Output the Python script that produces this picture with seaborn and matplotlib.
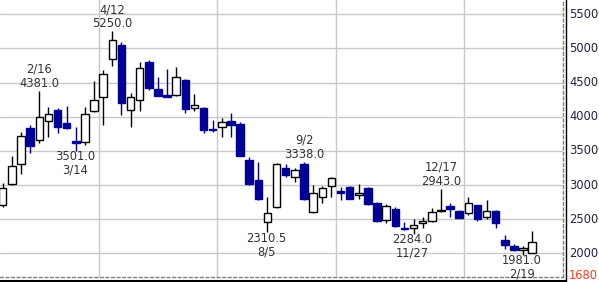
import matplotlib
matplotlib.use("Agg")
import matplotlib.pyplot as plt
import matplotlib.transforms as mtransforms
from matplotlib.lines import Line2D
import numpy as np
import pandas as pd
import seaborn as sns

# ---------------- data (weekly candles, Jan 2024 - Feb 2025) ----------------
week_start = "2024-01-15"
opens = [2707, 3010, 3303, 3835, 3654, 3933, 4099, 3908, 3640, 3625,
         4079, 4284, 4841, 5046, 4099, 4245, 4802, 4406, 4313, 4313,
         4538, 4123, 4128, 3825, 3845, 3942, 3894, 3366, 3073, 2453,
         2673, 3244, 3112, 3307, 2600, 2829, 2985, 2912, 2966, 2853,
         2956, 2731, 2487, 2648, 2370, 2370, 2438, 2477, 2622, 2692,
         2619, 2585, 2702, 2526, 2619, 2194, 2106, 2048, 2000]
highs = [3024, 3420, 3781, 3879, 4381, 4138, 4123, 4157, 3854, 4138,
         4519, 4685, 5250, 5100, 4343, 4807, 4831, 4577, 4694, 4733,
         4548, 4333, 4138, 3952, 3976, 4050, 3928, 3405, 3342, 2829,
         3317, 3303, 3244, 3338, 2995, 2990, 3122, 2975, 2990, 3015,
         2966, 2746, 2722, 2673, 2463, 2497, 2536, 2658, 2943, 2741,
         2634, 2819, 2712, 2780, 2634, 2268, 2131, 2106, 2331]
lows = [2673, 2995, 3156, 3464, 3620, 3698, 3757, 3820, 3501, 3581,
        4064, 3879, 4743, 4025, 3854, 4084, 4392, 4304, 4284, 4304,
        4050, 4089, 3767, 3781, 3698, 3708, 3425, 2995, 2780, 2310.5,
        2658, 3112, 3049, 2780, 2585, 2731, 2819, 2780, 2790, 2790,
        2712, 2463, 2448, 2390, 2341, 2284, 2375, 2453, 2600, 2536,
        2512, 2560, 2477, 2497, 2375, 2057, 2038, 1981, 2000]
closes = [2951, 3283, 3718, 3576, 3991, 4045, 3854, 3830, 3610, 4035,
          4245, 4621, 5119, 4206, 4294, 4709, 4421, 4309, 4294, 4577,
          4118, 4167, 3810, 3801, 3918, 3884, 3430, 3010, 2795, 2585,
          3303, 3146, 3225, 2800, 2878, 2951, 3098, 2878, 2800, 2888,
          2726, 2477, 2697, 2404, 2355, 2409, 2477, 2600, 2640, 2648,
          2521, 2736, 2497, 2624, 2438, 2116, 2048, 2077, 2160]

# annotated extremes: (candle index, kind, date label)
marks_idx = [4, 8, 12, 29, 33, 45, 48, 57]
marks_kind = ["high", "low", "high", "low", "high", "low", "high", "low"]
marks_date = ["2/16", "3/14", "4/12", "8/5", "9/2", "11/27", "12/17", "2/19"]

# quarter separators (between candles)
quarter_lines = [10.5, 23.5, 36.5, 50.5]

yticks = [2000, 2500, 3000, 3500, 4000, 4500, 5000, 5500]
bottom_label = 1680

# ---------------- figure ----------------
sns.set_theme(style="white")
plt.rcParams["font.family"] = ["DejaVu Sans"]

W, H = 599, 282
fig = plt.figure(figsize=(W / 100, H / 100), dpi=100)
fig.patch.set_facecolor("white")
ax = fig.add_axes([0, 5 / H, 563 / W, 277 / H])
ax.set_facecolor("white")

df = pd.DataFrame({"date": pd.date_range(week_start, periods=len(opens), freq="7D"),
                   "open": opens, "high": highs, "low": lows, "close": closes})
df["x"] = np.arange(len(df))
df["up"] = df["close"] >= df["open"]

blue = "#000096"
for _, r in df.iterrows():
    col = "black" if r["up"] else blue
    ax.vlines(r["x"], r["low"], r["high"], colors=col, lw=1, zorder=2)
    lo = min(r["open"], r["close"])
    hgt = abs(r["close"] - r["open"])
    ax.bar(r["x"], hgt, bottom=lo, width=0.82,
           color="white" if r["up"] else blue,
           edgecolor=col, linewidth=1, zorder=3)

for i, kind, d in zip(marks_idx, marks_kind, marks_date):
    if kind == "high":
        val = highs[i]
        txt = f"{d}\n{val:.1f}"
        ax.annotate(txt, xy=(i, val), xytext=(0, 0.8), textcoords="offset points",
                    ha="center", va="bottom", fontsize=8.3, color="#333333",
                    linespacing=1.1, zorder=5)
    else:
        val = lows[i]
        txt = f"{val:.1f}\n{d}"
        ax.annotate(txt, xy=(i - 0.1, val), xytext=(0, 0.3), textcoords="offset points",
                    ha="center", va="top", fontsize=8.3, color="#333333",
                    linespacing=1.05, zorder=5)

for y in yticks:
    ax.axhline(y, color="#c8c8c8", lw=1, zorder=0)
for x in quarter_lines:
    ax.axvline(x, color="#c8c8c8", lw=1, zorder=0)

ax.set_xlim(-0.3, 61.37)
ax.set_ylim(1653, 5709)
ax.set_xticks([])
ax.set_yticks([])
for s in ["top", "left"]:
    ax.spines[s].set_visible(False)
for s in ["right", "bottom"]:
    ax.spines[s].set_visible(True)
    ax.spines[s].set_color("#808080")
    ax.spines[s].set_linestyle((0, (2, 2)))
    ax.spines[s].set_linewidth(1)

trans = mtransforms.blended_transform_factory(fig.transFigure, ax.transData)
for y in yticks:
    ax.text(569 / W, y, str(y), transform=trans, ha="left", va="center",
            fontsize=8.3, color="#222244", clip_on=False)
ax.text(569 / W, bottom_label, str(bottom_label), transform=trans, ha="left",
        va="center", fontsize=8.3, color="#ff3b1f", clip_on=False)

fig.add_artist(Line2D([565.5 / W, 565.5 / W], [0, 1], transform=fig.transFigure,
                      color="black", lw=1))
fig.add_artist(Line2D([0, 565.5 / W], [1 / H, 1 / H], transform=fig.transFigure,
                      color="black", lw=1.5))

fig.savefig("out.png", dpi=100, facecolor="white")
